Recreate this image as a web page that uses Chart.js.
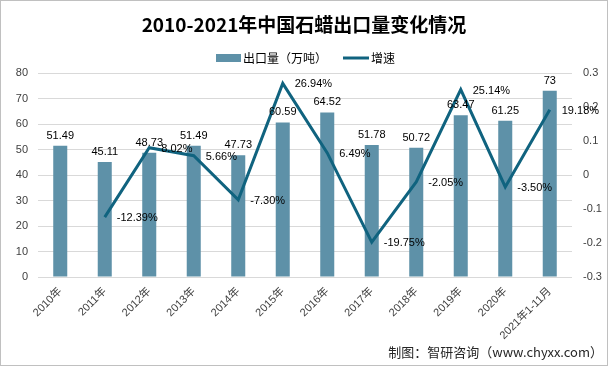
<!DOCTYPE html>
<html>
<head>
<meta charset="utf-8">
<script src="https://cdn.jsdelivr.net/npm/chart.js@4.4.1/dist/chart.umd.min.js"></script>
<style>
html, body { margin: 0; padding: 0; background: #fff; }
canvas { display: block; }
</style>
</head>
<body>
<canvas id="chart" width="608" height="366"></canvas>
<script>
// --- data ---
const categories = ['2010年', '2011年', '2012年', '2013年', '2014年', '2015年', '2016年', '2017年', '2018年', '2019年', '2020年', '2021年1-11月'];
const exportVolume = [51.49, 45.11, 48.73, 51.49, 47.73, 60.59, 64.52, 51.78, 50.72, 63.47, 61.25, 73];
const growthPct = [null, -12.39, 8.02, 5.66, -7.30, 26.94, 6.49, -19.75, -2.05, 25.14, -3.50, 19.18];

const BAR_COLOR = '#5E91A8';
const LINE_COLOR = '#10637F';
const FONT = "'Liberation Sans', 'Noto Sans CJK SC', sans-serif";
const CJK = "'Noto Sans CJK SC', 'Liberation Sans', sans-serif";

// title, legend, data labels, source note, frame
const decorPlugin = {
    id: 'decor',
    afterDatasetsDraw(chart) {
        const ctx = chart.ctx;
        ctx.save();
        ctx.fillStyle = '#000';
        ctx.font = '11px ' + FONT;
        ctx.textBaseline = 'alphabetic';

        // bar labels
        const barMeta = chart.getDatasetMeta(0);
        ctx.textAlign = 'center';
        barMeta.data.forEach((el, i) => {
            ctx.fillText(String(exportVolume[i]), el.x, el.y - 7);
        });

        // growth labels
        const lineMeta = chart.getDatasetMeta(1);
        ctx.textAlign = 'left';
        ctx.textBaseline = 'middle';
        lineMeta.data.forEach((el, i) => {
            if (growthPct[i] === null) return;
            ctx.fillText(growthPct[i].toFixed(2) + '%', el.x + 12, el.y + 1);
        });
        ctx.restore();
    },
    afterDraw(chart) {
        const ctx = chart.ctx;
        ctx.save();
        // title
        ctx.fillStyle = '#000';
        ctx.textAlign = 'center';
        ctx.textBaseline = 'middle';
        ctx.font = 'bold 19px ' + CJK;
        ctx.fillText('2010-2021年中国石蜡出口量变化情况', 304, 25);

        // legend
        ctx.fillStyle = BAR_COLOR;
        ctx.fillRect(216, 54, 25, 8);
        ctx.fillStyle = '#000';
        ctx.textAlign = 'left';
        ctx.font = '12px ' + CJK;
        ctx.fillText('出口量（万吨）', 243, 58);
        ctx.strokeStyle = LINE_COLOR;
        ctx.lineWidth = 3;
        ctx.beginPath();
        ctx.moveTo(343, 58);
        ctx.lineTo(369, 58);
        ctx.stroke();
        ctx.fillText('增速', 371, 58);

        // source
        ctx.textAlign = 'right';
        ctx.font = '13px ' + CJK;
        ctx.fillStyle = '#262626';
        ctx.fillText('制图：智研咨询（www.chyxx.com）', 603, 352);

        // frame
        ctx.strokeStyle = '#c0c0c0';
        ctx.lineWidth = 1;
        ctx.strokeRect(0.5, 0.5, 607, 365);
        ctx.restore();
    }
};

new Chart(document.getElementById('chart').getContext('2d'), {
    data: {
        labels: categories,
        datasets: [{
            type: 'bar',
            label: '出口量（万吨）',
            data: exportVolume,
            backgroundColor: BAR_COLOR,
            barPercentage: 0.315,
            categoryPercentage: 1,
            yAxisID: 'y',
            order: 1
        }, {
            type: 'line',
            label: '增速',
            data: growthPct.map(v => v === null ? null : v / 100),
            borderColor: LINE_COLOR,
            borderWidth: 3,
            pointRadius: 0,
            tension: 0,
            fill: false,
            yAxisID: 'y1',
            order: 0
        }]
    },
    options: {
        responsive: false,
        devicePixelRatio: 1,
        animation: false,
        layout: { padding: { top: 73, left: 0, right: 0, bottom: 0 } },
        plugins: {
            legend: { display: false },
            title: { display: false },
            tooltip: { enabled: false }
        },
        scales: {
            x: {
                offset: true,
                grid: { display: false, drawTicks: false },
                border: { display: false },
                ticks: {
                    minRotation: 45, maxRotation: 45, autoSkip: false, padding: 8,
                    color: '#404040', font: { size: 11, family: FONT }
                },
                afterFit: s => { s.height = 89; }
            },
            y: {
                position: 'left',
                min: 0, max: 80,
                ticks: { stepSize: 10, padding: 10, color: '#404040', font: { size: 11, family: FONT } },
                grid: { color: '#d9d9d9', drawTicks: false },
                border: { display: false },
                afterFit: s => { s.width = 38; }
            },
            y1: {
                position: 'right',
                min: -0.3, max: 0.3,
                ticks: {
                    stepSize: 0.1, padding: 11, color: '#404040', font: { size: 11, family: FONT },
                    callback: v => String(Math.round(v * 10) / 10)
                },
                grid: { display: false, drawTicks: false },
                border: { display: false },
                afterFit: s => { s.width = 36; }
            }
        }
    },
    plugins: [decorPlugin]
});
</script>
</body>
</html>
